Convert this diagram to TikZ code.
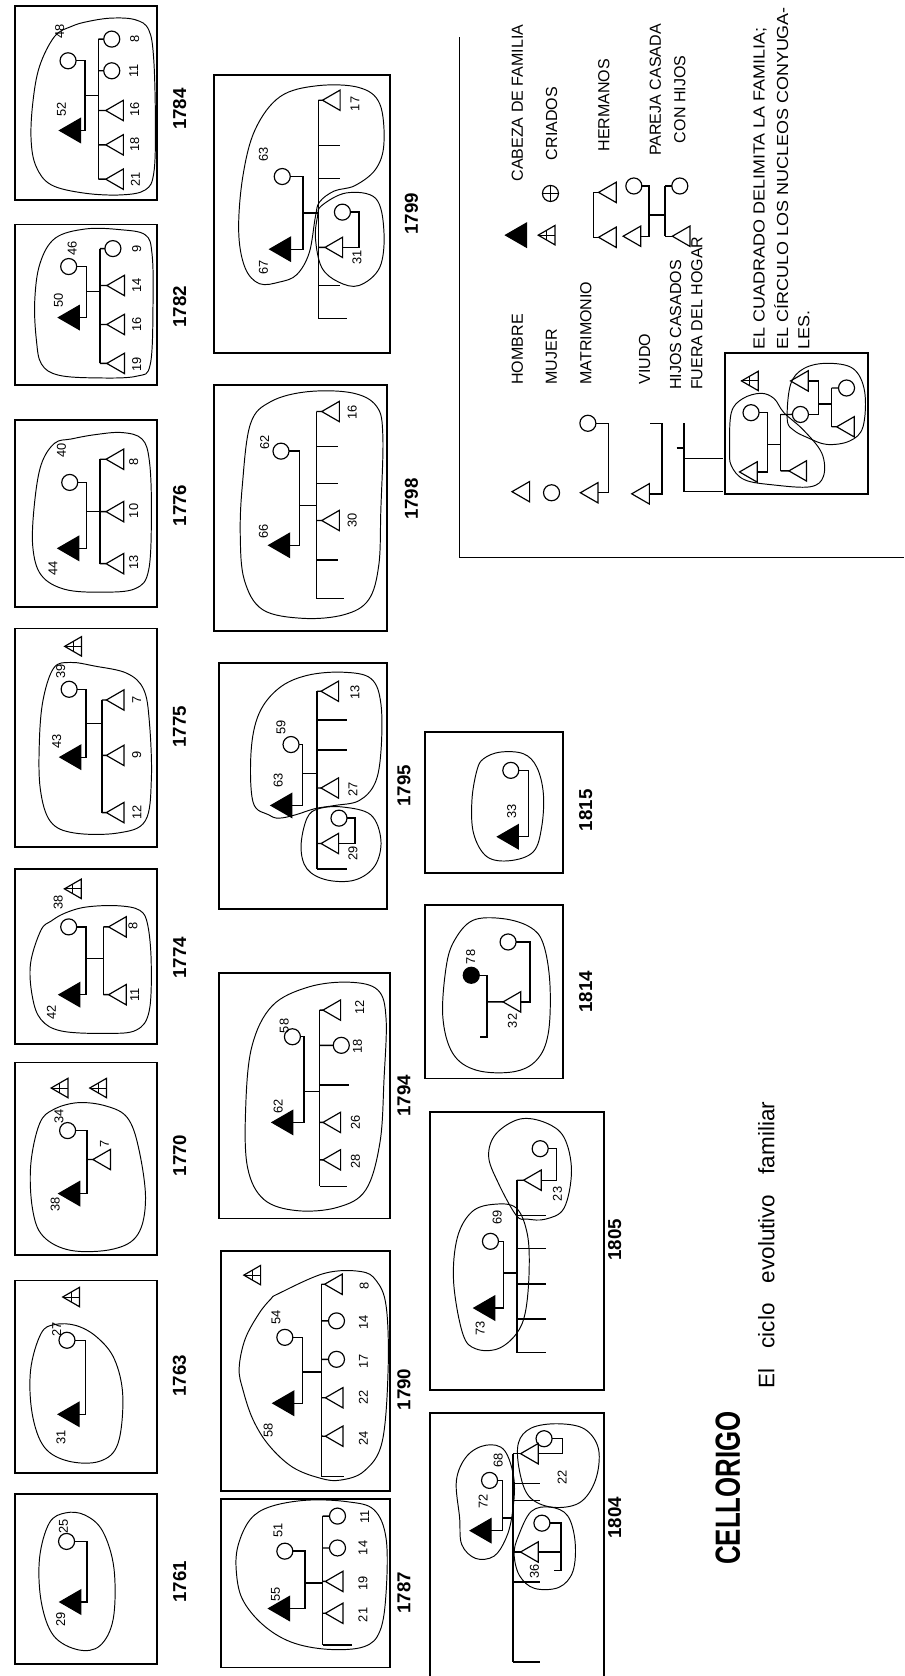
\documentclass[tikz,border=0pt]{standalone}
\usepackage{fontspec}
\setmainfont{Liberation Sans}
\usetikzlibrary{shapes.geometric}
\newcommand\numfont{\fontsize{12}{12}\selectfont}
\newcommand\yrfont{\fontsize{17.5}{17.5}\selectfont\bfseries}
\newcommand\lgfont{\fontsize{15}{15}\selectfont}
\newcounter{nn}
\newcommand\nm[2]{\stepcounter{nn}\node[num] (n\thenn) at (#1) {#2};}
\newcommand\criado[2]{\node[srv] (#1) at (#2) {};\draw[line width=0.9pt] (#1.corner 1) -- (#1.side 2) (#1.side 1) -- (#1.side 3);}
\newcommand\bmap[8]{\pgfmathsetmacro\bsx{(#7-#5)/(#3-#1)}\pgfmathsetmacro\bsy{(#8-#6)/(#4-#2)}\pgfmathsetmacro\btx{#5-\bsx*#1}\pgfmathsetmacro\bty{#6-\bsy*#2}}
\newcommand\kt[4]{\node[man,anchor=corner 1] (#1) at (#3,#4) {};\draw[ln] (#2,#4) -- (#1.corner 1);}
\newcommand\kc[4]{\node[wom] (#1) at (#3,#4) {};\draw[ln] (#2,#4) -- (#1.west);}
\newcommand\stub[3]{\draw[ln] (#1,#3) -- (#2,#3);}
\newcommand\marr[3]{\coordinate (tmpm) at (#3,0);\draw[ln] (#1.side 2) -| (#2.east -| tmpm) -- (#2.east);}
\tikzset{
 man/.style={regular polygon, regular polygon sides=3, shape border rotate=90, draw, line width=1.1pt, inner sep=0pt, outer sep=0pt, minimum size=22pt},
 head/.style={man, fill=black, minimum size=26pt},
 srv/.style={man, minimum size=21pt},
 wom/.style={circle, draw, line width=1.1pt, inner sep=0pt, outer sep=0pt, minimum size=15pt},
 ln/.style={line width=1.3pt},
 frame/.style={line width=1.8pt},
 blob/.style={line width=0.9pt},
 num/.style={rotate=90, font=\numfont, inner sep=0pt},
 yr/.style={rotate=90, font=\yrfont, inner sep=0pt},
 lg/.style={rotate=90, font=\lgfont, inner sep=0pt},
}
\begin{document}
\begin{tikzpicture}[x=1pt,y=-1pt]
\useasboundingbox (0,0) rectangle (846,1568);
\fill[white] (0,0) rectangle (846,1568);
% ===== 1784
\bmap{22}{20}{445}{600}{14}{6}{147}{187}
\begin{scope}[shift={(\btx,\bty)},xscale=\bsx,yscale=\bsy]
\draw[frame] (22,20) rectangle (445,600);
\draw[blob] plot[smooth cycle,tension=0.6] coordinates {(140,110) (95,200) (75,310) (70,420) (85,500) (130,555) (230,580) (340,585) (410,570) (435,520) (440,380) (435,180) (420,90) (380,60) (310,55) (240,65) (190,80)};
\node[head,anchor=corner 1] (a1h) at (155,392) {};
\node[wom] (a1w) at (180,183) {};
\marr{a1h}{a1w}{230}
\stub{230}{270}{287}
\draw[ln] (270,118) -- (270,538);
\kc{a1k1}{270}{310}{118}\kc{a1k2}{270}{310}{213}
\kt{a1k3}{270}{292}{332}\kt{a1k4}{270}{292}{435}\kt{a1k5}{270}{292}{538}
\nm{160,330}{52}\nm{155,95}{48}\nm{378,118}{8}\nm{375,213}{11}\nm{378,330}{16}\nm{378,435}{18}\nm{380,540}{21}
\end{scope}
% ===== 1782
\bmap{22}{675}{440}{1140}{14}{210}{147}{360}
\begin{scope}[shift={(\btx,\bty)},xscale=\bsx,yscale=\bsy]
\draw[frame] (22,675) rectangle (440,1140);
\draw[blob] plot[smooth cycle,tension=0.6] coordinates {(95,790) (80,900) (85,1010) (100,1080) (150,1112) (260,1120) (380,1115) (420,1080) (428,900) (425,760) (405,705) (330,690) (230,688) (140,715)};
\node[head,anchor=corner 1] (a2h) at (150,945) {};
\node[wom] (a2w) at (180,797) {};
\marr{a2h}{a2w}{232}
\stub{232}{272}{870}
\draw[ln] (272,745) -- (272,1078);
\kc{a2k1}{272}{310}{745}\kt{a2k2}{272}{292}{852}\kt{a2k3}{272}{292}{965}\kt{a2k4}{272}{292}{1078}
\nm{150,895}{50}\nm{190,745}{46}\nm{380,745}{9}\nm{380,852}{14}\nm{380,965}{16}\nm{380,1082}{19}
\end{scope}
% ===== 1776
\bmap{22}{65}{445}{590}{14}{393}{147}{568}
\begin{scope}[shift={(\btx,\bty)},xscale=\bsx,yscale=\bsy]
\draw[frame] (22,65) rectangle (445,590);
\draw[blob] plot[smooth cycle,tension=0.6] coordinates {(140,130) (100,190) (80,300) (75,420) (100,500) (170,540) (280,548) (380,538) (420,485) (428,320) (422,180) (400,118) (340,100) (260,106) (190,118)};
\node[head,anchor=corner 1] (a3h) at (150,425) {};
\node[wom] (a3w) at (185,240) {};
\marr{a3h}{a3w}{235}
\stub{235}{275}{322}
\draw[ln] (275,175) -- (275,468);
\kt{a3k1}{275}{293}{175}\kt{a3k2}{275}{293}{322}\kt{a3k3}{275}{293}{468}
\nm{135,482}{44}\nm{160,150}{40}\nm{375,182}{8}\nm{375,320}{10}\nm{375,465}{13}
\end{scope}
% ===== 1775
\bmap{25}{680}{445}{1290}{14}{588}{147}{792}
\begin{scope}[shift={(\btx,\bty)},xscale=\bsx,yscale=\bsy]
\draw[frame] (25,680) rectangle (445,1290);
\draw[blob] plot[smooth cycle,tension=0.6] coordinates {(140,790) (108,880) (97,1000) (100,1130) (130,1220) (200,1252) (330,1252) (410,1218) (428,1100) (422,940) (405,850) (355,805) (260,785) (190,775)};
\node[head,anchor=corner 1] (a4h) at (158,1040) {};
\node[wom] (a4w) at (185,850) {};
\marr{a4h}{a4w}{235}
\stub{235}{282}{945}
\draw[ln] (282,880) -- (282,1195);
\kt{a4k1}{282}{295}{880}\kt{a4k2}{282}{295}{1035}\kt{a4k3}{282}{295}{1195}
\criado{a4c}{205,730}
\nm{148,995}{43}\nm{160,800}{39}\nm{385,880}{7}\nm{385,1035}{9}\nm{385,1195}{12}
\end{scope}
% ===== 1774
\bmap{35}{115}{445}{645}{14}{813}{147}{977}
\begin{scope}[shift={(\btx,\bty)},xscale=\bsx,yscale=\bsy]
\draw[frame] (35,115) rectangle (445,645);
\draw[blob] plot[smooth cycle,tension=0.6] coordinates {(110,300) (80,400) (85,500) (110,570) (170,605) (300,612) (385,602) (422,545) (428,400) (418,285) (395,240) (330,226) (240,230) (180,248) (140,272)};
\node[head,anchor=corner 1] (a5h) at (162,495) {};
\node[wom] (a5w) at (190,290) {};
\marr{a5h}{a5w}{240}
\stub{240}{290}{385}
\draw[ln] (290,290) -- (290,495);
\kt{a5k1}{290}{305}{290}\kt{a5k2}{290}{305}{495}
\criado{a5c}{210,175}
\nm{140,548}{42}\nm{160,215}{38}\nm{375,288}{8}\nm{380,495}{11}
\end{scope}
% ===== 1770
\bmap{40}{700}{445}{1265}{14}{994}{147}{1174}
\begin{scope}[shift={(\btx,\bty)},xscale=\bsx,yscale=\bsy]
\draw[frame] (40,700) rectangle (445,1265);
\draw[blob] plot[smooth cycle,tension=0.6] coordinates {(110,880) (85,1000) (90,1130) (120,1210) (200,1252) (320,1248) (390,1205) (412,1100) (392,950) (360,862) (300,828) (220,818) (150,838)};
\node[head,anchor=corner 1] (a6h) at (165,1085) {};
\node[wom] (a6w) at (190,900) {};
\marr{a6h}{a6w}{245}
\kt{a6k}{245}{262}{985}
\criado{a6c1}{175,775}\criado{a6c2}{285,775}
\nm{155,1117}{38}\nm{165,858}{34}\nm{295,940}{7}
\end{scope}
% ===== 1763
\bmap{45}{135}{455}{660}{14}{1198}{147}{1378}
\begin{scope}[shift={(\btx,\bty)},xscale=\bsx,yscale=\bsy]
\draw[frame] (45,135) rectangle (455,660);
\draw[blob] plot[smooth cycle,tension=0.6] coordinates {(120,280) (90,380) (95,500) (130,590) (200,628) (290,628) (342,580) (356,450) (332,350) (282,290) (222,258) (160,255)};
\node[head,anchor=corner 1] (a7h) at (170,500) {};
\node[wom] (a7w) at (195,298) {};
\marr{a7h}{a7w}{248}
\criado{a7c}{215,180}
\nm{178,562}{31}\nm{165,268}{27}
\end{scope}
% ===== 1761
\bmap{50}{760}{455}{1265}{14}{1398}{147}{1557}
\begin{scope}[shift={(\btx,\bty)},xscale=\bsx,yscale=\bsy]
\draw[frame] (50,760) rectangle (455,1265);
\draw[blob] plot[smooth cycle,tension=0.6] coordinates {(148,845) (120,950) (125,1080) (160,1180) (230,1222) (292,1210) (330,1130) (332,980) (300,870) (250,822) (195,815)};
\node[head,anchor=corner 1] (a8h) at (178,1080) {};
\node[wom] (a8w) at (197,900) {};
\marr{a8h}{a8w}{255}
\nm{180,1132}{29}\nm{188,855}{25}
\end{scope}
% ===== 1799
\bmap{100}{70}{525}{835}{200}{70}{365}{330}
\begin{scope}[shift={(\btx,\bty)},xscale=\bsx,yscale=\bsy]
\draw[frame] (100,70) rectangle (525,835);
\draw[blob] plot[smooth cycle,tension=0.6] coordinates {(175,600) (160,500) (170,350) (200,220) (260,130) (350,100) (450,105) (500,150) (510,260) (490,330) (440,375) (390,390) (355,420) (345,460) (330,560) (300,620) (260,640) (210,645)};
\draw[blob] plot[smooth cycle,tension=0.6] coordinates {(360,430) (420,395) (490,410) (510,500) (500,600) (450,650) (400,640) (360,600) (345,520) (350,460)};
\node[head,anchor=corner 1] (b1h) at (235,550) {};
\node[wom] (b1w) at (265,350) {};
\marr{b1h}{b1w}{315}
\stub{315}{352}{450}
\draw[ln] (352,140) -- (352,740);
\kt{b1k1}{352}{362}{140}
\stub{352}{405}{265}\stub{352}{405}{355}\stub{352}{405}{650}\stub{352}{420}{740}
\kt{b1s}{352}{368}{545}
\node[wom] (b1sw) at (410,448) {};
\marr{b1s}{b1sw}{450}
\nm{220,600}{67}\nm{220,290}{63}\nm{440,150}{17}\nm{445,572}{31}
\end{scope}
% ===== 1798
\draw[frame] (200,360) rectangle (362,590);
\bmap{100}{915}{525}{1790}{200}{365.3}{362}{568.1}
\begin{scope}[shift={(\btx,\bty)},xscale=\bsx,yscale=\bsy]
\draw[blob] plot[smooth cycle,tension=0.6] coordinates {(165,1500) (170,1300) (190,1050) (240,960) (330,920) (440,925) (500,980) (515,1100) (510,1400) (505,1620) (480,1760) (420,1820) (320,1835) (220,1800) (175,1680)};
\node[head,anchor=corner 1] (b2h) at (235,1540) {};
\node[wom] (b2w) at (265,1160) {};
\marr{b2h}{b2w}{310}
\stub{310}{352}{1380}
\draw[ln] (352,1000) -- (352,1755);
\kt{b2k1}{352}{365}{1000}\kt{b2k2}{352}{365}{1440}
\stub{352}{405}{1140}\stub{352}{405}{1290}\stub{352}{405}{1600}\stub{352}{420}{1755}
\nm{222,1485}{66}\nm{225,1125}{62}\nm{440,1005}{16}\nm{440,1440}{30}
\end{scope}
% ===== 1795
\bmap{110}{120}{530}{895}{205}{620}{362}{850}
\begin{scope}[shift={(\btx,\bty)},xscale=\bsx,yscale=\bsy]
\draw[frame] (110,120) rectangle (530,895);
\draw[blob] plot[smooth cycle,tension=0.6] coordinates {(235,600) (195,560) (190,400) (210,280) (260,200) (330,160) (420,150) (490,170) (515,250) (515,400) (500,500) (460,555) (400,570) (350,580) (300,600) (260,610)};
\draw[blob] plot[smooth cycle,tension=0.6] coordinates {(330,610) (360,580) (420,575) (490,600) (515,680) (500,760) (450,805) (380,805) (330,770) (315,700)};
\node[head,anchor=corner 1] (b3h) at (240,570) {};
\node[wom] (b3w) at (290,378) {};
\marr{b3h}{b3w}{318}
\stub{318}{355}{470}
\draw[ln] (355,210) -- (355,770);
\kt{b3k1}{355}{365}{210}\kt{b3k2}{355}{365}{515}
\stub{355}{430}{300}\stub{355}{430}{395}\stub{355}{430}{770}
\kt{b3s}{355}{365}{690}
\node[wom] (b3sw) at (410,610) {};
\marr{b3s}{b3sw}{450}
\nm{258,490}{63}\nm{265,325}{59}\nm{450,215}{13}\nm{445,520}{27}\nm{445,722}{29}
\end{scope}
% ===== 1794
\bmap{110}{965}{530}{1740}{205}{910}{365}{1140}
\begin{scope}[shift={(\btx,\bty)},xscale=\bsx,yscale=\bsy]
\draw[frame] (110,965) rectangle (530,1740);
\draw[blob] plot[smooth cycle,tension=0.6] coordinates {(180,1580) (175,1400) (190,1200) (240,1070) (330,1010) (430,995) (500,1020) (520,1110) (515,1300) (505,1500) (470,1650) (400,1705) (300,1715) (220,1680)};
\node[head,anchor=corner 1] (b4h) at (240,1437) {};
\node[wom] (b4w) at (290,1167) {};
\marr{b4h}{b4w}{318}
\stub{318}{357}{1340}
\draw[ln] (357,1083) -- (357,1639);
\kt{b4k1}{357}{365}{1083}\kc{b4k2}{357}{410}{1194}\kt{b4k3}{357}{365}{1437}\kt{b4k4}{357}{365}{1555}
\stub{357}{430}{1319}\stub{357}{425}{1639}
\nm{255,1386}{62}\nm{270,1133}{58}\nm{455,1075}{12}\nm{450,1197}{18}\nm{445,1437}{26}\nm{445,1560}{28}
\end{scope}
% ===== 1790
\bmap{120}{278}{545}{935}{207}{1170}{365}{1395}
\begin{scope}[shift={(\btx,\bty)},xscale=\bsx,yscale=\bsy]
\draw[frame] (120,278) rectangle (545,935);
\draw[blob] plot[smooth cycle,tension=0.6] coordinates {(265,395) (380,340) (470,335) (510,360) (535,430) (540,600) (525,800) (480,880) (420,905) (370,900) (300,870) (240,810) (200,740) (175,660) (165,600) (180,520) (215,450) (245,410)};
\node[head,anchor=corner 1] (b5h) at (250,695) {};
\node[wom] (b5w) at (280,515) {};
\marr{b5h}{b5w}{325}
\stub{325}{372}{610}
\draw[ln] (372,370) -- (372,895);
\kt{b5k1}{372}{380}{370}\kc{b5k2}{372}{410}{470}\kc{b5k3}{372}{410}{575}\kt{b5k4}{372}{382}{680}\kt{b5k5}{372}{382}{785}
\stub{372}{430}{895}
\criado{b5c}{205,345}
\nm{258,460}{54}\nm{238,770}{58}\nm{480,375}{8}\nm{478,475}{14}\nm{478,580}{17}\nm{478,680}{22}\nm{478,790}{24}
\end{scope}
% ===== 1787
\bmap{128}{1005}{545}{1535}{207}{1402}{365}{1560}
\begin{scope}[shift={(\btx,\bty)},xscale=\bsx,yscale=\bsy]
\draw[frame] (128,1005) rectangle (545,1535);
\draw[blob] plot[smooth cycle,tension=0.6] coordinates {(165,1230) (170,1150) (200,1070) (250,1030) (340,1010) (440,1015) (505,1040) (535,1130) (535,1300) (520,1420) (480,1470) (390,1478) (300,1455) (230,1400) (180,1320)};
\node[head,anchor=corner 1] (b6h) at (245,1350) {};
\node[wom] (b6w) at (285,1170) {};
\marr{b6h}{b6w}{335}
\stub{335}{378}{1270}
\draw[ln] (378,1060) -- (378,1465);
\kc{b6k1}{378}{415}{1060}\kc{b6k2}{378}{415}{1160}\kt{b6k3}{378}{385}{1265}\kt{b6k4}{378}{385}{1365}
\stub{378}{450}{1465}
\nm{262,1305}{55}\nm{268,1105}{51}\nm{482,1062}{11}\nm{478,1160}{14}\nm{478,1270}{19}\nm{478,1370}{21}
\end{scope}
% ===== 1815
\bmap{105}{95}{520}{520}{398}{685}{527}{817}
\begin{scope}[shift={(\btx,\bty)},xscale=\bsx,yscale=\bsy]
\draw[frame] (105,95) rectangle (520,520);
\draw[blob] plot[smooth cycle,tension=0.6] coordinates {(260,210) (245,300) (250,400) (290,470) (360,482) (430,455) (455,380) (460,280) (440,200) (400,160) (330,155) (280,175)};
\node[head,anchor=corner 1] (c1h) at (322,410) {};
\node[wom] (c1w) at (362,210) {};
\marr{c1h}{c1w}{415}
\nm{365,335}{33}
\end{scope}
% ===== 1814
\bmap{108}{615}{520}{1135}{398}{847}{527}{1009}
\begin{scope}[shift={(\btx,\bty)},xscale=\bsx,yscale=\bsy]
\draw[frame] (108,615) rectangle (520,1135);
\draw[blob] plot[smooth cycle,tension=0.6] coordinates {(170,800) (160,950) (190,1060) (260,1110) (370,1115) (440,1080) (475,1000) (480,850) (460,730) (420,680) (340,655) (250,660) (195,720)};
\node[wom,fill=black] (c2h) at (245,825) {};
\draw[ln] (c2h.east) -| (292,1010) -- (270,1010);
\kt{c2s}{292}{340}{905}
\node[wom] (c2w) at (355,725) {};
\marr{c2s}{c2w}{420}
\nm{243,770}{78}\nm{368,962}{32}
\end{scope}
% ===== 1805
\draw[frame] (402,1040) rectangle (565,1300);
\bmap{85}{40}{500}{790}{402}{1040}{545}{1300}
\begin{scope}[shift={(\btx,\bty)},xscale=\bsx,yscale=\bsy]
\draw[blob] plot[smooth cycle,tension=0.6] coordinates {(175,640) (150,500) (160,380) (200,310) (260,290) (320,300) (350,370) (355,470) (345,580) (320,640) (270,680) (210,680)};
\draw[blob] plot[smooth cycle,tension=0.6] coordinates {(320,320) (270,230) (245,160) (265,100) (330,60) (400,70) (450,110) (470,200) (450,300) (400,330) (350,330)};
\node[head,anchor=corner 1] (c3h) at (205,570) {};
\node[wom] (c3w) at (250,390) {};
\marr{c3h}{c3w}{285}
\stub{285}{322}{475}
\draw[ln] (322,225) -- (322,690);
\kt{c3s}{322}{340}{225}
\node[wom] (c3sw) at (385,140) {};
\marr{c3s}{c3sw}{430}
\stub{322}{400}{320}\stub{322}{400}{410}\stub{322}{400}{505}\stub{322}{400}{600}\stub{322}{400}{690}
\nm{222,625}{73}\nm{268,325}{69}\nm{432,262}{23}
\end{scope}
% ===== 1804 (main coordinates)
\draw[frame] (402,1322) rectangle (565,1570);
\draw[blob] plot[smooth cycle,tension=0.6] coordinates {(430,1420) (427,1385) (437,1362) (455,1352) (472,1357) (481,1385) (479,1418) (473,1440) (462,1456) (445,1458) (432,1445)};
\draw[blob] plot[smooth cycle,tension=0.6] coordinates {(485,1437) (497,1414) (515,1410) (531,1418) (538,1442) (536,1470) (523,1485) (500,1486) (486,1474) (481,1454)};
\draw[blob] plot[smooth cycle,tension=0.6] coordinates {(485,1350) (497,1336) (522,1332) (547,1337) (560,1356) (557,1385) (542,1406) (516,1410) (495,1400) (486,1376)};
\node[head,anchor=corner 1] (c4h) at (440,1432) {};
\node[wom] (c4w) at (458,1385) {};
\marr{c4h}{c4w}{470}
\stub{470}{480}{1420}
\draw[ln] (480,1360) -- (480,1555);
\kt{c4s1}{480}{487}{1360}
\node[wom] (c4w1) at (509,1346) {};
\marr{c4s1}{c4w1}{526}
\kt{c4s2}{480}{487}{1452}
\node[wom] (c4w2) at (507,1425) {};
\draw[ln] (c4w2.east) -| (525,1469) -- (518,1469);
\coordinate (c4m2) at (525,0);
\draw[ln] (c4s2.side 2) -- (c4s2.side 2 -| c4m2);
\stub{480}{505}{1388}\stub{480}{505}{1404}\stub{480}{505}{1480}\stub{480}{505}{1555}
\nm{452,1405}{72}\nm{466,1366}{68}\nm{526,1382}{22}\nm{500,1470}{36}
% ===== year labels
\node[yr] (y1784) at (168,102) {1784};
\node[yr] (y1782) at (168,287) {1782};
\node[yr] (y1776) at (168,473) {1776};
\node[yr] (y1775) at (168,680) {1775};
\node[yr] (y1774) at (168,896) {1774};
\node[yr] (y1770) at (168,1081) {1770};
\node[yr] (y1763) at (168,1287) {1763};
\node[yr] (y1761) at (168,1480) {1761};
\node[yr] (y1799) at (385,200) {1799};
\node[yr] (y1798) at (385,467) {1798};
\node[yr] (y1795) at (378,735) {1795};
\node[yr] (y1794) at (378,1025) {1794};
\node[yr] (y1790) at (378,1300) {1790};
\node[yr] (y1787) at (378,1490) {1787};
\node[yr] (y1815) at (548,758) {1815};
\node[yr] (y1814) at (548,928) {1814};
\node[yr] (y1805) at (575,1160) {1805};
\node[yr] (y1804) at (575,1420) {1804};
% ===== legend
\draw[line width=1pt] (430,35) -- (430,522) -- (846,522);
\node[head,anchor=corner 1] (lh) at (473,220) {};
\criado{lc}{514,220}
\node[wom] (lcf) at (515,181) {};
\draw[line width=0.9pt] (lcf.north) -- (lcf.south) (lcf.west) -- (lcf.east);
\draw[ln] (555,180) -- (555,222);
\kt{lb1}{555}{560}{180}\kt{lb2}{555}{560}{222}
\node[wom] (lpw) at (593,174) {};
\node[man,anchor=corner 1] (lph) at (583,221) {};
\marr{lph}{lpw}{607}
\stub{607}{622}{201}
\draw[ln] (622,174) -- (622,221);
\kc{lpk1}{622}{636}{174}\kt{lpk2}{622}{629}{221}
\node[lg,anchor=west] (t1) at (484,170) {CABEZA DE FAMILIA};
\node[lg,anchor=west] (t2) at (516,150) {CRIADOS};
\node[lg,anchor=west] (t3) at (565,142) {HERMANOS};
\node[lg,anchor=west] (t4) at (613,146) {PAREJA CASADA};
\node[lg,anchor=west] (t5) at (636,134) {CON HIJOS};
\node[man,anchor=corner 1] (lm) at (479,460) {};
\node[wom] (lw) at (516,461) {};
\node[wom] (lmw) at (550,396) {};
\node[man,anchor=corner 1] (lmh) at (543,461) {};
\marr{lmh}{lmw}{569}
\node[man,anchor=corner 1] (lv) at (591,462) {};
\draw[ln] (lv.side 2) -| (619.5,396) -- (608,396);
\draw[ln] (640,396) -- (640,460) -- (676,460);
\draw[ln] (633,419) -- (640,419);
\draw[ln] (640,429) -- (676,429);
\node[lg,anchor=west] (t6) at (484,360) {HOMBRE};
\node[lg,anchor=west] (t7) at (516,360) {MUJER};
\node[lg,anchor=west] (t8) at (548,360) {MATRIMONIO};
\node[lg,anchor=west] (t9) at (603,360) {VIUDO};
\node[lg,anchor=west] (t10) at (632,365) {HIJOS CASADOS};
\node[lg,anchor=west] (t11) at (652,365) {FUERA DEL HOGAR};
\node[lg,anchor=west] (t12) at (711,327) {\scalebox{1.12}[1]{EL CUADRADO DELIMITA LA FAMILIA;}};
\node[lg,anchor=west] (t13) at (731,327) {\scalebox{1.12}[1]{EL CÍRCULO LOS NUCLEOS CONYUGA-}};
\node[lg,anchor=west] (t14) at (752,327) {\scalebox{1.12}[1]{LES.}};
% example box
\bmap{850}{930}{1285}{1330}{678}{330}{812}{462}
\begin{scope}[shift={(\btx,\bty)},xscale=\bsx,yscale=\bsy]
\draw[frame] (850,930) rectangle (1285,1330);
\draw[blob] plot[smooth cycle,tension=0.6] coordinates {(865,1200) (870,1100) (905,1060) (960,1045) (1000,1060) (1030,1100) (1090,1150) (1145,1215) (1150,1280) (1110,1310) (1000,1305) (910,1290) (870,1250)};
\draw[blob] plot[smooth cycle,tension=0.6] coordinates {(1040,1120) (1050,1020) (1090,975) (1160,960) (1240,975) (1275,1040) (1270,1140) (1230,1180) (1160,1190) (1100,1170) (1060,1150)};
\criado{xc}{935,1010}
\node[wom] (xw1) at (930,1100) {};
\node[man,anchor=corner 1] (xh1) at (895,1268) {};
\marr{xh1}{xw1}{980}
\stub{980}{1020}{1190}
\draw[ln] (1020,1105) -- (1020,1265);
\kc{xw2}{1020}{1080}{1105}
\kt{xk1}{1020}{1045}{1265}
\node[man,anchor=corner 1] (xh2) at (1050,1010) {};
\marr{xh2}{xw2}{1135}
\stub{1135}{1175}{1075}
\draw[ln] (1175,1030) -- (1175,1140);
\kc{xk2}{1175}{1220}{1030}
\kt{xk3}{1175}{1190}{1140}
\end{scope}
% ===== titles
\node[rotate=90,font=\fontsize{32.7}{33}\selectfont\bfseries,inner sep=0pt] (title) at (681,1392) {\scalebox{0.74}[1]{CELLORIGO}};
\node[rotate=90,font=\fontsize{21}{21}\selectfont,inner sep=0pt] (caption) at (717,1165) {El\hspace{19pt}ciclo\hspace{19pt}evolutivo\hspace{19pt}familiar};
\end{tikzpicture}
\end{document}
